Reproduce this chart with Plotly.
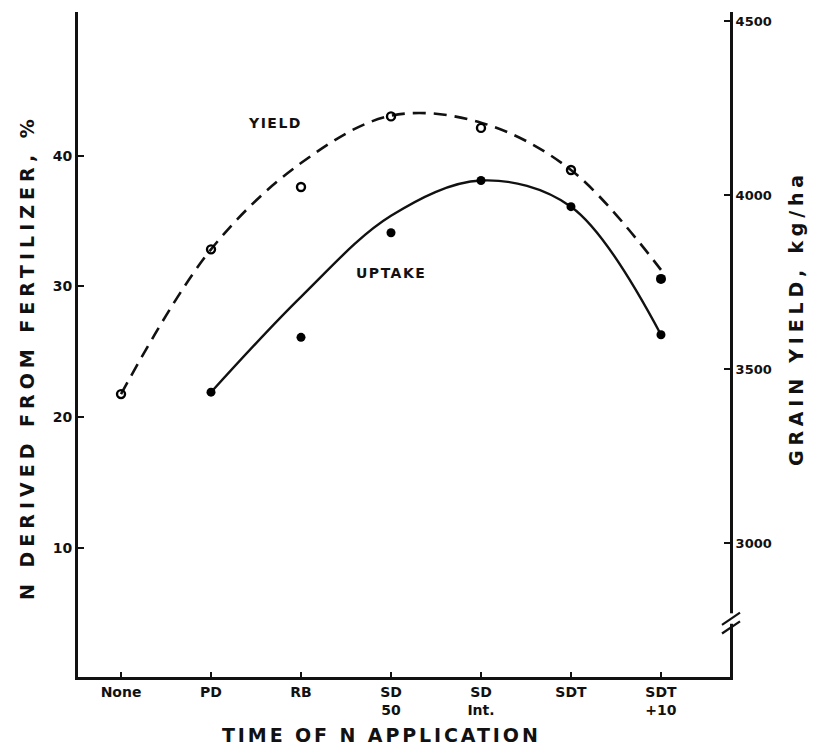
import plotly.graph_objects as go

# ---- data ----
categories = ["None", "PD", "RB", "SD 50", "SD Int.", "SDT", "SDT +10"]
tick_labels = ["None", "PD", "RB", "SD<br>50", "SD<br>Int.", "SDT", "SDT<br>+10"]

# grain yield, kg/ha (open circles, right axis)
yield_points = [3428, 3844, 4023, 4226, 4193, 4072, 3759]
# fitted yield curve read at each category (dashed line)
yield_curve = [3428, 3844, 4092, 4228, 4208, 4072, 3785]

# N derived from fertilizer, % (filled dots, left axis) – PD … SDT+10
uptake_categories = categories[1:]
uptake_points = [21.9, 26.1, 34.1, 38.1, 36.1, 26.3]
# fitted uptake curve read at each category (solid line)
uptake_curve = [21.9, 29.2, 35.4, 38.1, 36.1, 26.3]

left_ticks = [10, 20, 30, 40]
right_ticks = [3000, 3500, 4000, 4500]

INK = "#111111"
FONT = "DejaVu Sans"


def spaced(text, px):
    return f'<span style="letter-spacing:{px}px">{text}</span>'


fig = go.Figure()

# yield curve (dashed) and points
fig.add_trace(go.Scatter(
    x=categories, y=yield_curve, yaxis="y2", mode="lines",
    line=dict(color=INK, width=2.6, dash="13px,8px", shape="spline", smoothing=1.0),
    hoverinfo="skip", showlegend=False))
fig.add_trace(go.Scatter(
    x=categories[:-1], y=yield_points[:-1], yaxis="y2", mode="markers",
    marker=dict(symbol="circle-open", size=8, color="#000000", opacity=1,
                line=dict(color="#000000", width=2.4)),
    showlegend=False, name="Yield"))
fig.add_trace(go.Scatter(
    x=categories[-1:], y=yield_points[-1:], yaxis="y2", mode="markers",
    marker=dict(symbol="circle", size=10, color="#000000", opacity=1,
                line=dict(color="#000000", width=0)),
    showlegend=False, name="Yield"))

# uptake curve (solid) and points
fig.add_trace(go.Scatter(
    x=uptake_categories, y=uptake_curve, mode="lines",
    line=dict(color=INK, width=2.4, shape="spline", smoothing=1.0),
    hoverinfo="skip", showlegend=False))
fig.add_trace(go.Scatter(
    x=uptake_categories, y=uptake_points, mode="markers",
    marker=dict(symbol="circle", size=9, color="#000000", opacity=1,
                line=dict(width=0)),
    showlegend=False, name="Uptake"))

# curve labels
fig.add_annotation(x=1.71, y=42.5, xref="x", yref="y", text=spaced("YIELD", 1.5), showarrow=False,
                   font=dict(family=FONT, size=14, color=INK, weight="bold"))
fig.add_annotation(x=3.0, y=31.0, xref="x", yref="y", text=spaced("UPTAKE", 1.5), showarrow=False,
                   font=dict(family=FONT, size=14, color=INK, weight="bold"))

# axis titles
fig.add_annotation(x=381, y=735, xref="paper", yref="paper", showarrow=False,
                   text=spaced("TIME OF N APPLICATION", 2.9),
                   font=dict(family=FONT, size=19, color=INK, weight="bold"))
fig.add_annotation(x=27, y=357, xref="paper", yref="paper", showarrow=False, textangle=-90,
                   text=spaced("N DERIVED FROM FERTILIZER, %", 5.0),
                   font=dict(family=FONT, size=19, color=INK, weight="bold"))
fig.add_annotation(x=796, y=318, xref="paper", yref="paper", showarrow=False, textangle=-90,
                   text=spaced("GRAIN YIELD, kg/ha", 4.8),
                   font=dict(family=FONT, size=19, color=INK, weight="bold"))

L, R, T, B = 78, 730, 12, 677
W, H = R - L, B - T
# convert the title pixel anchors above to paper coordinates
for ann in fig.layout.annotations:
    if ann.xref == "paper":
        ann.x = (ann.x - L) / W
        ann.y = (B - ann.y) / H
        ann.xanchor = "center"
        ann.yanchor = "middle"

# axis break on the right axis
def px(xp):
    return (xp - L) / W
fig.add_shape(type="rect", xref="paper", yref="y2", x0=px(724), x1=px(738), y0=2768, y1=2798,
              fillcolor="white", line=dict(width=0), layer="above")
fig.add_shape(type="line", xref="paper", yref="y2", x0=px(722), x1=px(740), y0=2765, y1=2800,
              line=dict(color=INK, width=2.2), layer="above")
fig.add_shape(type="line", xref="paper", yref="y2", x0=px(722), x1=px(740), y0=2740, y1=2775,
              line=dict(color=INK, width=2.2), layer="above")

fig.update_layout(
    width=813, height=753,
    margin=dict(l=L, r=813 - R, t=T, b=753 - B),
    paper_bgcolor="white", plot_bgcolor="white",
    font=dict(family=FONT, color=INK),
    xaxis=dict(
        type="category", range=[-0.478, 6.767],
        tickvals=categories, ticktext=tick_labels,
        tickfont=dict(family=FONT, size=14, color=INK, weight="bold"),
        ticks="inside", ticklen=5, tickwidth=2, tickcolor=INK,
        showline=True, linecolor=INK, linewidth=3, showgrid=False, zeroline=False,
    ),
    yaxis=dict(
        range=[0.1, 51.0], tickvals=left_ticks,
        tickfont=dict(family=FONT, size=14, color=INK, weight="bold"),
        ticks="inside", ticklen=6, tickwidth=2, tickcolor=INK,
        showline=True, linecolor=INK, linewidth=3, showgrid=False, zeroline=False,
    ),
    yaxis2=dict(
        range=[2615, 4526], tickvals=right_ticks, overlaying="y", side="right",
        tickfont=dict(family=FONT, size=13, color=INK, weight="bold"),
        ticks="inside", ticklen=6, tickwidth=2, tickcolor=INK,
        showline=True, linecolor=INK, linewidth=3, showgrid=False, zeroline=False,
    ),
)

fig.write_html("out.html")
